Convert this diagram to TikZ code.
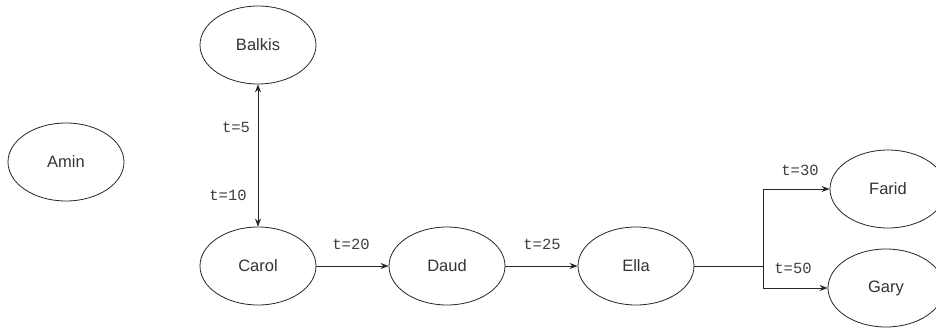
\documentclass[tikz,border=0pt]{standalone}
\usepackage{fontspec}
\setmainfont{Liberation Sans}
\setmonofont{Liberation Mono}
\usetikzlibrary{arrows.meta,shapes.geometric}
\begin{document}
\begin{tikzpicture}[x=1pt,y=-1pt,
  person/.style={draw=black!85, line width=0.8pt, ellipse, minimum width=116pt, minimum height=78pt, inner sep=0pt, font=\fontsize{16.5}{19}\selectfont, text=black!80},
  tlabel/.style={font=\ttfamily\fontsize{15.5}{18}\selectfont, text=black!75, inner sep=1pt},
  conn/.style={draw=black!85, line width=0.8pt, -{Stealth[length=8pt,width=6pt]}}
]
\useasboundingbox (0,0) rectangle (936,329);
\node[person] (amin) at (66,162) {Amin};
\node[person] (balkis) at (258,45) {Balkis};
\node[person] (carol) at (258,266) {Carol};
\node[person] (daud) at (447,266) {Daud};
\node[person] (ella) at (636,266) {Ella};
\node[person] (farid) at (888,189) {Farid};
\node[person] (gary) at (886,288) {Gary};
\coordinate (split) at (763,266);
\draw[conn, {Stealth[length=8pt,width=6pt]}-{Stealth[length=8pt,width=6pt]}] (balkis.south) -- (carol.north);
\node[tlabel] (l5) at (236,127) {t=5};
\node[tlabel] (l10) at (228,195) {t=10};
\draw[conn] (carol) -- (daud);
\node[tlabel] (l20) at (351,244) {t=20};
\draw[conn] (daud) -- (ella);
\node[tlabel] (l25) at (542,244) {t=25};
\draw[draw=black!85, line width=0.8pt] (ella.east) -- (split);
\draw[conn] (split) |- (farid.west);
\draw[conn] (split) |- (gary.west);
\node[tlabel] (l30) at (800,170) {t=30};
\node[tlabel] (l50) at (793,268) {t=50};
\end{tikzpicture}
\end{document}
